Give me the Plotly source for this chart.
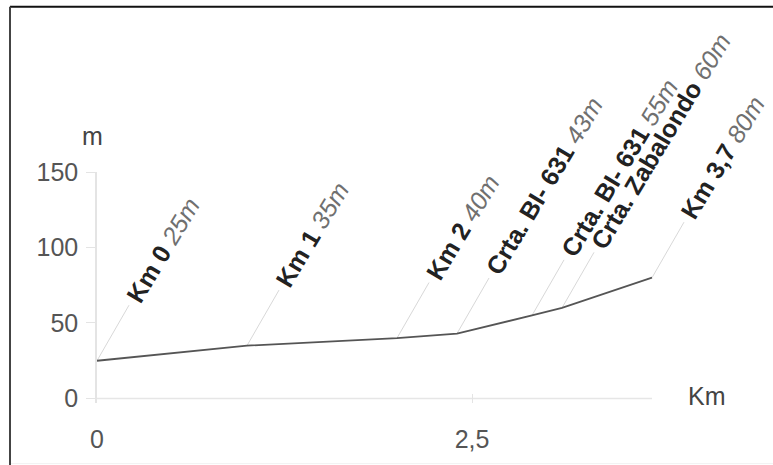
import math
import plotly.graph_objects as go

# ---------------- data ----------------
dist_km = [0, 1, 2, 2.4, 2.9, 3.1, 3.7]
elev_m = [25, 35, 40, 43, 55, 60, 80]
point_names = ["Km 0", "Km 1", "Km 2", "Crta. BI- 631", "Crta. BI- 631",
               "Crta. Zabalondo", "Km 3,7"]
point_elev_labels = ["25m", "35m", "40m", "43m", "55m", "60m", "80m"]
x_tick_vals = [0, 2.5]
x_tick_text = ["0", "2,5"]
y_tick_vals = [0, 50, 100, 150]
y_tick_text = ["0", "50", "100", "150"]
x_axis_title = "Km"
y_axis_title = "m"

# ---------------- layout geometry / style ----------------
W, H = 773, 465
ML, MR, MT = 97, 16, 172
XR = [0, 4.4]
YR = [-3, 150]
PH = 226 * (YR[1] - YR[0]) / YR[1]
MB = H - MT - PH
PW = W - ML - MR
px_km = PW / (XR[1] - XR[0])
px_m = PH / (YR[1] - YR[0])

LEADER_ANGLE = 60.0     # degrees above horizontal
TEXT_ANGLE = -59
LEADER_PX = 64
TEXT_GAP_PX = 4
ANN_SIZE = 25
TICK_SIZE = 25
FONT = "Liberation Sans, Arial, sans-serif"

ca = math.cos(math.radians(LEADER_ANGLE))
sa = math.sin(math.radians(LEADER_ANGLE))

fig = go.Figure()

# leader lines
lx, ly = [], []
for x0, y0 in zip(dist_km, elev_m):
    lx += [x0, x0 + LEADER_PX * ca / px_km, None]
    ly += [y0, y0 + LEADER_PX * sa / px_m, None]
fig.add_trace(go.Scatter(x=lx, y=ly, mode="lines",
                         line=dict(color="#d8d8d8", width=1),
                         hoverinfo="skip", showlegend=False))

# x baseline (from first to last point)
fig.add_trace(go.Scatter(x=[dist_km[0], dist_km[-1]], y=[0, 0], mode="lines",
                         line=dict(color="#e6e6e6", width=1.5),
                         hoverinfo="skip", showlegend=False))

# profile
fig.add_trace(go.Scatter(x=dist_km, y=elev_m, mode="lines",
                         line=dict(color="#555555", width=1.8),
                         hoverinfo="skip", showlegend=False))

# labels
box_h = ANN_SIZE * 1.15 + 2
ts = math.sin(math.radians(-TEXT_ANGLE))
tc = math.cos(math.radians(-TEXT_ANGLE))
annotations = []
for x0, y0, nm, el in zip(dist_km, elev_m, point_names, point_elev_labels):
    L = LEADER_PX + TEXT_GAP_PX
    annotations.append(dict(
        x=x0 + L * ca / px_km, y=y0 + L * sa / px_m, xref="x", yref="y",
        text=f"<b>{nm}</b> <span style='color:#707070'><i>{el}</i></span>",
        showarrow=False, textangle=TEXT_ANGLE,
        xanchor="left", yanchor="bottom",
        xshift=-box_h * ts / 2, yshift=-box_h * tc / 2,
        font=dict(family=FONT, size=ANN_SIZE, color="#222222"),
    ))

def px_to_paper_x(px):
    return (px - ML) / PW

def px_to_paper_y(py):
    return (H - MB - py) / PH

# axis titles
annotations.append(dict(x=px_to_paper_x(92), y=px_to_paper_y(136), xref="paper", yref="paper",
                        text=y_axis_title, showarrow=False, xanchor="center", yanchor="middle",
                        font=dict(family=FONT, size=TICK_SIZE, color="#444444")))
annotations.append(dict(x=px_to_paper_x(707), y=px_to_paper_y(396), xref="paper", yref="paper",
                        text=x_axis_title, showarrow=False, xanchor="center", yanchor="middle",
                        font=dict(family=FONT, size=TICK_SIZE, color="#444444")))

# frame
shapes = [
    dict(type="line", xref="paper", yref="paper",
         x0=px_to_paper_x(10), x1=px_to_paper_x(W + 5),
         y0=px_to_paper_y(7), y1=px_to_paper_y(7),
         line=dict(color="#111111", width=2)),
    dict(type="line", xref="paper", yref="paper",
         x0=px_to_paper_x(10), x1=px_to_paper_x(10),
         y0=px_to_paper_y(7), y1=px_to_paper_y(H + 5),
         line=dict(color="#444444", width=2)),
    dict(type="line", xref="paper", yref="paper",
         x0=px_to_paper_x(11), x1=px_to_paper_x(W + 5),
         y0=px_to_paper_y(463), y1=px_to_paper_y(463),
         line=dict(color="#f2f2f2", width=1)),
]

fig.update_layout(
    width=W, height=H,
    margin=dict(l=ML, r=MR, t=MT, b=MB, pad=0),
    paper_bgcolor="white", plot_bgcolor="white",
    separators=",.",
    showlegend=False,
    annotations=annotations,
    shapes=shapes,
    font=dict(family=FONT, color="#555555"),
    xaxis=dict(range=XR, showgrid=False, zeroline=False, showline=False,
               tickvals=x_tick_vals, ticktext=x_tick_text,
               ticks="inside", ticklen=9, tickcolor="#e4e4e4", tickwidth=1,
               ticklabelstandoff=19,
               tickfont=dict(family=FONT, size=TICK_SIZE, color="#555555"),
               fixedrange=True),
    yaxis=dict(range=YR, showgrid=False, zeroline=False, showline=True,
               linecolor="#e4e4e4", linewidth=1.5,
               tickvals=y_tick_vals, ticktext=y_tick_text,
               ticks="outside", ticklen=9, tickcolor="#e4e4e4", tickwidth=1,
               ticklabelstandoff=3,
               tickfont=dict(family=FONT, size=TICK_SIZE, color="#555555"),
               fixedrange=True),
)

fig.write_html("out.html", config={"displayModeBar": False},
               post_script="document.body.style.margin='0';document.body.style.overflow='hidden';")
